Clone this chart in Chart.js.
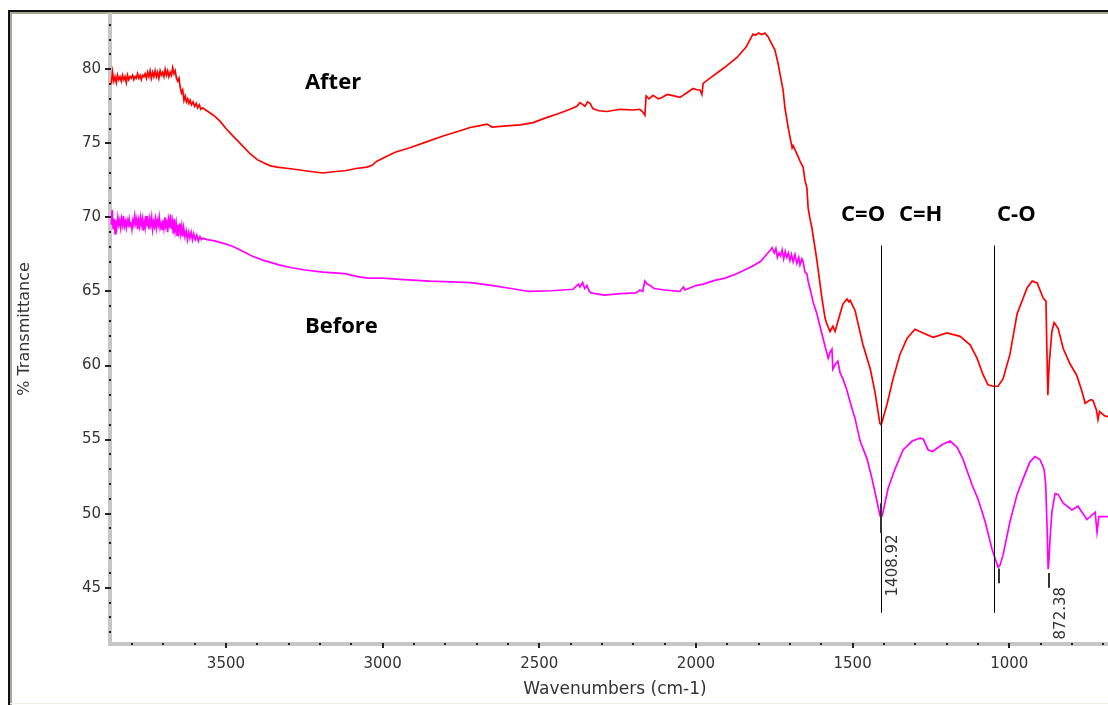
<!DOCTYPE html>
<html><head><meta charset="utf-8">
<script src="https://cdn.jsdelivr.net/npm/chart.js@4.4.0/dist/chart.umd.min.js"></script>
<style>html,body{margin:0;padding:0;background:#fff;overflow:hidden}canvas{display:block}</style>
</head><body><canvas id="c" width="1108" height="705"></canvas>
<script>
// ---- Data (wavenumber cm-1, % transmittance) ----
const afterWn = [3866,3862,3858,3854,3850,3846,3842,3838,3834,3830,3826,3822,3818,3814,3810,3806,3802,3798,3794,3790,3786,3782,3778,3774,3770,3766,3762,3758,3754,3750,3746,3742,3738,3734,3730,3726,3722,3718,3714,3710,3706,3702,3698,3694,3690,3686,3682,3678,3674,3670,3666,3662,3658,3654,3650,3646,3642,3638,3634,3630,3626,3622,3618,3614,3610,3605,3600,3595,3590,3585,3580,3575,3561,3540,3519,3500,3478,3450,3423,3400,3382,3360,3337,3300,3264,3230,3190,3150,3120,3085,3050,3035,3018,2990,2960,2913,2860,2807,2760,2721,2689,2667,2651,2594,2560,2520,2475,2440,2402,2380,2370,2360,2354,2346,2338,2329,2310,2284,2242,2200,2179,2169,2163,2159,2150,2137,2120,2108,2092,2070,2051,2030,2009,1995,1987,1981,1977,1955,1910,1869,1840,1818,1810,1800,1790,1780,1770,1748,1738,1722,1716,1709,1706,1693,1690,1674,1668,1658,1652,1646,1642,1636,1630,1614,1598,1588,1582,1572,1563,1556,1540,1531,1518,1512,1508,1492,1467,1444,1429,1413,1409,1406,1390,1371,1349,1326,1301,1275,1243,1199,1157,1125,1103,1084,1068,1052,1036,1020,998,975,943,927,911,892,883,880,877,874,872,864,857,844,828,806,784,768,758,740,733,722,717,712,707,695,685];
const afterT = [79.0,79.8,79.2,79.5,79.1,79.6,79.3,79.5,79.2,79.6,79.3,79.5,79.1,79.6,79.3,79.5,79.4,79.6,79.3,79.5,79.4,79.7,79.4,79.6,79.3,79.6,79.5,79.7,79.4,79.8,79.5,79.9,79.4,79.8,79.5,79.9,79.5,79.8,79.4,79.9,79.6,79.8,79.5,80.0,79.6,79.9,79.5,79.8,79.6,80.1,79.7,79.9,79.4,79.2,79.4,78.8,78.4,78.6,77.9,78.2,77.8,78.0,77.7,77.9,77.6,77.8,77.5,77.7,77.4,77.6,77.3,77.4,77.2,76.9,76.5,76.0,75.5,74.9,74.3,73.9,73.7,73.5,73.4,73.3,73.2,73.1,73.0,73.1,73.15,73.3,73.4,73.5,73.8,74.1,74.4,74.7,75.1,75.5,75.8,76.07,76.2,76.3,76.1,76.2,76.25,76.4,76.75,77.0,77.3,77.5,77.75,77.6,77.5,77.8,77.7,77.35,77.2,77.15,77.3,77.25,77.3,77.1,76.9,78.2,78.0,78.24,78.0,78.1,78.3,78.2,78.1,78.4,78.7,78.6,78.6,78.3,79.05,79.4,80.1,80.8,81.5,82.37,82.3,82.45,82.35,82.44,82.2,81.3,80.4,78.6,77.4,76.5,76.1,74.7,74.85,74.1,73.8,73.4,72.5,72.0,70.65,69.9,69.3,67.1,64.55,63.2,62.8,62.3,62.65,62.3,63.5,64.15,64.5,64.3,64.4,63.7,61.4,59.8,58.25,56.1,56.0,56.2,57.4,59.1,60.75,61.85,62.45,62.2,61.9,62.2,61.97,61.4,60.5,59.4,58.7,58.6,58.6,59.1,60.75,63.5,65.25,65.7,65.57,64.55,64.35,61.0,58.0,59.5,60.3,62.3,62.9,62.5,61.15,60.1,59.3,58.25,57.45,57.7,57.65,57.0,56.35,56.9,56.8,56.6,56.55];

const beforeWn = [3866,3863,3860,3857,3854,3851,3848,3845,3842,3839,3836,3833,3830,3827,3824,3821,3818,3815,3812,3809,3806,3803,3800,3797,3794,3791,3788,3785,3782,3779,3776,3773,3770,3767,3764,3761,3758,3755,3752,3749,3746,3743,3740,3737,3734,3731,3728,3725,3722,3719,3716,3713,3710,3707,3704,3701,3698,3695,3692,3689,3686,3683,3680,3677,3674,3671,3668,3665,3662,3659,3656,3653,3650,3647,3644,3641,3638,3635,3631,3627,3623,3619,3615,3611,3607,3603,3598,3593,3588,3583,3578,3573,3560,3532,3500,3474,3445,3417,3380,3331,3290,3248,3190,3120,3080,3047,3000,2932,2850,2780,2718,2648,2590,2533,2460,2392,2375,2370,2362,2355,2348,2340,2335,2293,2240,2191,2179,2170,2163,2156,2146,2134,2100,2051,2040,2035,2000,1977,1940,1907,1870,1850,1820,1792,1775,1762,1757,1750,1745,1740,1735,1730,1725,1720,1715,1710,1705,1700,1695,1690,1684,1678,1672,1668,1662,1658,1652,1646,1642,1636,1625,1614,1600,1588,1578,1572,1566,1563,1555,1547,1540,1531,1520,1502,1492,1476,1454,1438,1422,1413,1409,1403,1387,1365,1339,1310,1285,1275,1259,1245,1215,1189,1167,1148,1119,1100,1077,1055,1036,1030,1020,998,975,956,934,918,902,889,884,880,876,873,870,864,854,844,828,800,781,768,752,726,720,714,700,685];
const beforeT = [69.5,70.5,69.2,69.9,68.9,69.8,69.4,70.0,69.5,69.8,69.3,69.9,69.5,70.1,69.4,69.7,69.3,69.8,69.5,69.9,69.4,69.7,69.2,69.8,69.5,70.1,69.6,69.9,69.2,69.8,69.4,70.0,69.5,69.9,69.1,69.7,69.3,70.1,69.4,69.8,69.2,69.9,69.5,70.0,69.2,69.7,69.4,69.9,69.3,69.8,69.5,70.0,69.3,69.6,69.2,69.8,69.3,70.0,69.4,69.7,69.0,69.8,69.3,70.2,69.2,69.7,68.9,69.9,69.1,69.6,68.8,69.5,69.0,69.6,68.9,69.4,68.7,69.3,68.7,69.1,68.5,69.0,68.6,69.0,68.5,68.9,68.5,68.8,68.4,68.7,68.5,68.6,68.5,68.4,68.2,68.0,67.7,67.4,67.1,66.8,66.6,66.45,66.3,66.2,66.0,65.9,65.9,65.8,65.7,65.65,65.6,65.4,65.2,65.0,65.05,65.15,65.5,65.3,65.6,65.2,65.4,65.0,64.9,64.75,64.85,64.9,65.1,65.0,65.7,65.5,65.4,65.2,65.1,65.0,65.3,65.1,65.4,65.5,65.75,65.9,66.2,66.4,66.7,67.05,67.5,67.8,67.95,67.6,67.9,67.3,67.6,67.4,67.8,67.2,67.7,67.3,67.6,67.1,67.5,67.0,67.5,66.9,67.3,66.8,67.2,67.0,66.3,66.2,65.7,65.2,64.2,63.5,62.3,61.3,60.5,60.9,61.1,59.75,60.1,60.3,59.5,59.1,58.45,57.1,56.4,54.9,53.7,52.35,50.8,49.9,49.7,50.1,51.7,53.0,54.3,54.9,55.1,55.05,54.3,54.2,54.65,54.9,54.5,53.7,51.95,51.0,49.45,47.6,46.4,46.5,47.2,49.45,51.3,52.35,53.5,53.85,53.65,53.0,52.0,49.45,46.25,47.0,48.3,50.1,51.35,51.3,50.7,50.25,50.5,50.1,49.6,50.1,48.75,49.8,49.8,49.8];

const xTicks = [3500, 3000, 2500, 2000, 1500, 1000];
const yTicks = [45, 50, 55, 60, 65, 70, 75, 80];
const xMinorStep = 100;
const yMinorStep = 1;
const xRange = [685, 3870];
const yRange = [41.2, 83.8];

// annotations (data units)
const bondLines = [1408.92, 1050];
const bondLineSpan = [43.3, 68.1];
const bondLabels = [
  {text: 'C=O', wn: 1537, t: 70.2},
  {text: 'C=H', wn: 1352, t: 70.2},
  {text: 'C-O', wn: 1039, t: 70.2}
];
const seriesLabels = [
  {text: 'After', wn: 3248, t: 79.1},
  {text: 'Before', wn: 3248, t: 62.6}
];
const peakMarks = [
  {wn: 1408.92, t0: 50.7, t1: 48.7, label: '1408.92', labelT: 48.6},
  {wn: 1033, t0: 46.3, t1: 45.3, label: null},
  {wn: 873, t0: 46.0, t1: 45.0, label: '872.38', labelT: 45.05}
];

const toXY = (xs, ys) => xs.map((x, i) => ({x: x, y: ys[i]}));

const framePlugin = {
  id: 'frame',
  beforeDraw(chart) {
    const ctx = chart.ctx;
    ctx.save();
    ctx.fillStyle = '#ffffff';
    ctx.fillRect(0, 0, chart.width, chart.height);
    ctx.fillStyle = '#111111';
    ctx.fillRect(8, 10, chart.width - 8, 2);
    ctx.fillRect(8, 10, 2, chart.height - 10);
    ctx.fillStyle = '#a8a797';
    ctx.fillRect(10, 12, chart.width - 10, 2);
    ctx.fillRect(10, 12, 2, chart.height - 12);
    ctx.fillStyle = '#f1efe2';
    ctx.fillRect(10, chart.height - 2, chart.width - 10, 1);
    ctx.restore();
  },
  beforeDatasetsDraw(chart) {
    const ctx = chart.ctx, a = chart.chartArea;
    const xs = chart.scales.x, ys = chart.scales.y;
    ctx.save();
    ctx.fillStyle = '#c6c6c6';
    ctx.fillRect(a.left - 2, a.top, 4, a.bottom - a.top + 2);
    ctx.fillRect(a.left - 2, a.bottom - 2, a.right - a.left + 2, 4);
    ctx.fillStyle = '#222222';
    for (let v = Math.ceil(yRange[0]); v <= yRange[1]; v += yMinorStep) {
      const py = Math.round(ys.getPixelForValue(v));
      if (yTicks.includes(v)) ctx.fillRect(a.left - 5, py - 1, 6, 2);
      else ctx.fillRect(a.left - 1, py - 1, 2, 2);
    }
    for (let v = Math.ceil(xRange[0] / xMinorStep) * xMinorStep; v <= xRange[1]; v += xMinorStep) {
      const px = Math.round(xs.getPixelForValue(v));
      if (xTicks.includes(v)) ctx.fillRect(px - 1, a.bottom - 1, 2, 5);
      else ctx.fillRect(px - 1, a.bottom - 1, 2, 2);
    }
    ctx.restore();
  },
  afterDatasetsDraw(chart) {
    const ctx = chart.ctx, a = chart.chartArea;
    const xs = chart.scales.x, ys = chart.scales.y;
    ctx.save();
    ctx.strokeStyle = '#000000';
    ctx.lineWidth = 1;
    bondLines.forEach(w => {
      const px = Math.round(xs.getPixelForValue(w)) + 0.5;
      ctx.beginPath();
      ctx.moveTo(px, ys.getPixelForValue(bondLineSpan[1]));
      ctx.lineTo(px, ys.getPixelForValue(bondLineSpan[0]));
      ctx.stroke();
    });
    ctx.strokeStyle = '#333333';
    ctx.lineWidth = 2;
    ctx.fillStyle = '#333333';
    ctx.font = '15px "DejaVu Sans"';
    peakMarks.forEach(m => {
      const px = Math.round(xs.getPixelForValue(m.wn));
      ctx.beginPath();
      ctx.moveTo(px, ys.getPixelForValue(m.t0));
      ctx.lineTo(px, ys.getPixelForValue(m.t1));
      ctx.stroke();
      if (m.label) {
        ctx.save();
        ctx.translate(px + 12, ys.getPixelForValue(m.labelT));
        ctx.rotate(-Math.PI / 2);
        ctx.textAlign = 'right';
        ctx.textBaseline = 'middle';
        ctx.fillText(m.label, 0, 0);
        ctx.restore();
      }
    });
    ctx.fillStyle = '#000000';
    ctx.font = 'bold 22px "Open Sans"';
    ctx.textAlign = 'left';
    ctx.textBaseline = 'middle';
    bondLabels.concat(seriesLabels).forEach(l => {
      ctx.fillText(l.text, xs.getPixelForValue(l.wn), ys.getPixelForValue(l.t));
    });
    ctx.fillStyle = '#333333';
    ctx.font = '17px "DejaVu Sans"';
    ctx.textAlign = 'center';
    ctx.fillText('Wavenumbers (cm-1)', 615, 690);
    ctx.font = '16px "DejaVu Sans"';
    ctx.save();
    ctx.translate(25, 329);
    ctx.rotate(-Math.PI / 2);
    ctx.fillText('% Transmittance', 0, 0);
    ctx.restore();
    ctx.restore();
  }
};

new Chart(document.getElementById('c'), {
  type: 'scatter',
  data: {
    datasets: [
      {label: 'After', data: toXY(afterWn, afterT), showLine: true, borderColor: '#ff0000', borderWidth: 1.7, pointRadius: 0, tension: 0},
      {label: 'Before', data: toXY(beforeWn, beforeT), showLine: true, borderColor: '#ff00ff', borderWidth: 1.7, pointRadius: 0, tension: 0}
    ]
  },
  options: {
    responsive: false,
    animation: false,
    events: [],
    layout: {padding: {top: 13, left: 0, right: 0, bottom: 0}},
    plugins: {legend: {display: false}, tooltip: {enabled: false}},
    scales: {
      x: {
        type: 'linear', reverse: true, min: xRange[0], max: xRange[1],
        grid: {display: false, drawTicks: false}, border: {display: false},
        afterBuildTicks: s => { s.ticks = xTicks.map(v => ({value: v})); },
        afterFit: s => { s.height = 61; s.paddingLeft = 0; s.paddingRight = 0; },
        ticks: {padding: 11, color: '#333333', font: {family: 'DejaVu Sans', size: 15}, maxRotation: 0, autoSkip: false, callback: v => String(v)}
      },
      y: {
        type: 'linear', min: yRange[0], max: yRange[1],
        grid: {display: false, drawTicks: false}, border: {display: false},
        afterBuildTicks: s => { s.ticks = yTicks.map(v => ({value: v})); },
        afterFit: s => { s.width = 110; s.paddingTop = 0; s.paddingBottom = 0; },
        ticks: {padding: 9, color: '#333333', font: {family: 'DejaVu Sans', size: 15}, autoSkip: false, callback: v => String(v)}
      }
    }
  },
  plugins: [framePlugin]
});
</script>
</body></html>
